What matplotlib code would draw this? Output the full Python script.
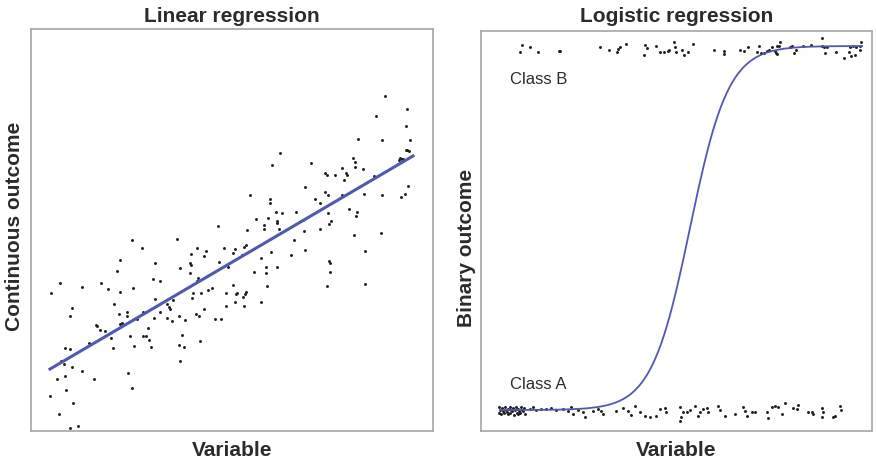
import numpy as np
import matplotlib
matplotlib.use("Agg")
import matplotlib.pyplot as plt

plt.rcParams['font.family'] = ['Liberation Sans', 'DejaVu Sans']

# ---------------- Linear regression panel data (arbitrary units) ----------------
lin_x = [101, 146, 111, 166, 175, 193, 160, 173, 89, 124, 159, 160, 188, 149, 86, 159,
         167, 166, 29, 70, 122, 129, 51, 102, 77, 181, 177, 20, 89, 162, 170, 195,
         161, 124, 142, 83, 136, 138, 139, 41, 96, 96, 112, 129, 173, 195, 39, 88,
         148, 165, 168, 123, 136, 141, 154, 184, 190, 91, 89, 106, 65, 66, 69, 74,
         117, 80, 99, 112, 115, 118, 151, 58, 169, 34, 39, 82, 103, 120, 148, 153,
         30, 33, 41, 149, 51, 26, 34, 63, 97, 101, 35, 19, 42, 28, 39, 47, 187,
         354, 376, 345, 375, 327, 351, 379, 376, 378, 375, 249, 369, 371, 372, 368,
         322, 324, 324, 241, 280, 311, 332, 294, 296, 304, 315, 316, 313, 343, 377,
         374, 370, 274, 219, 294, 297, 311, 333, 351, 239, 239, 284, 289, 318, 326,
         325, 245, 251, 265, 297, 225, 237, 246, 246, 233, 233, 272, 300, 298, 216,
         248, 273, 289, 323, 350,
         263, 204, 202, 213, 215, 211, 240, 274, 260, 334, 230, 298, 299, 197, 235,
         246, 223, 235, 299, 202, 236, 296, 334, 206, 205, 215, 214, 212, 230, 204, 213]
lin_y = [191, 192, 183, 183, 180, 183, 177, 175, 171, 168, 168, 166, 169, 163, 160, 158,
         153, 150, 148, 148, 152, 150, 144, 143, 142, 143, 141, 138, 139, 138, 138, 138,
         133, 132, 131, 127, 127, 124, 122, 123, 119, 115, 119, 119, 122, 125, 115, 117,
         115, 117, 115, 113, 113, 110, 111, 112, 112, 108, 107, 112, 106, 105, 101, 100,
         103, 93, 95, 95, 95, 91, 96, 88, 90, 83, 82, 83, 85, 84, 86, 84,
         70, 67, 64, 70, 60, 52, 55, 52, 58, 43, 41, 35, 28, 17, 3, 5, 205,
         335, 322, 315, 305, 292, 291, 291, 281, 280, 281, 278, 273, 272, 272, 271,
         273, 269, 264, 266, 268, 263, 262, 258, 256, 256, 258, 256, 251, 255, 245,
         237, 234, 244, 236, 239, 236, 236, 237, 236, 232, 228, 232, 228, 222, 219,
         215, 219, 218, 219, 218, 212, 213, 210, 208, 206, 202, 211, 210, 207, 201,
         202, 200, 202, 196, 198,
         191, 182, 178, 184, 186, 176, 179, 181, 176, 180, 173, 170, 168, 164, 164,
         164, 159, 158, 159, 146, 145, 145, 147, 138, 137, 139, 137, 134, 129, 129, 125]

# fitted regression line
lin_intercept = 50.8
lin_slope = 0.587
lin_line_x = [19, 382]

# ---------------- Logistic regression panel data (arbitrary units) ----------------
top_x = [41, 39, 49, 57, 79, 78, 119, 128, 137, 136, 139, 145, 164, 166, 163, 175,
         179, 183, 187, 188, 193, 194, 195, 201, 203, 207, 212, 233, 243, 243, 259,
         263, 267, 278, 276, 280, 283, 286, 288, 291, 294, 295, 296, 299, 298, 296,
         309, 311, 313, 315, 322, 330, 341, 341, 343, 346, 344, 355, 363, 368, 369,
         372, 375, 379, 380, 379, 374, 370]
top_y = [386, 379, 384, 379, 380, 380, 384, 381, 382, 379, 384, 387, 386, 383, 376, 385,
         379, 379, 380, 381, 389, 384, 379, 381, 376, 379, 387, 381, 380, 377, 381,
         380, 384, 385, 379, 378, 378, 380, 381, 384, 380, 378, 377, 389, 385, 385,
         384, 385, 378, 381, 385, 386, 393, 385, 384, 384, 378, 379, 373, 379, 384,
         385, 384, 385, 389, 381, 376, 375]

bot_x = [18, 21, 24, 27, 29, 32, 35, 37, 40, 43,
         19, 22, 25, 26, 30, 31, 34, 38, 41, 42,
         18, 20, 23, 27, 29, 33, 36, 37, 39, 44,
         49, 52, 55, 60, 65, 70, 75, 82, 87, 90, 92, 97, 102, 104, 112, 117, 120,
         122, 135, 142, 147, 150, 154, 159, 164, 169, 175, 179, 184, 185, 199, 200,
         202, 206, 209, 214, 219, 222, 226, 227, 199, 217, 237, 239, 244, 254, 262,
         264, 266, 271, 274, 286, 287, 291, 294, 297, 304, 301, 312, 316, 317, 327,
         331, 332, 341, 342, 341, 352, 354, 359, 360]
bot_y = [24, 23, 24, 22, 24, 23, 24, 22, 24, 23,
         21, 20, 21, 19, 21, 20, 21, 20, 21, 20,
         18, 17, 18, 17, 18, 16, 18, 17, 18, 17,
         22, 24, 21, 22, 22, 23, 21, 22, 20, 24, 17, 21, 19, 14, 20, 22, 20,
         17, 20, 23, 20, 16, 25, 19, 15, 14, 15, 22, 23, 19, 24, 14,
         19, 19, 21, 25, 19, 22, 23, 19, 10, 15, 25, 21, 15, 17, 24,
         20, 15, 19, 19, 19, 13, 24, 25, 24, 28, 17, 23, 22, 26, 19,
         19, 17, 23, 19, 14, 14, 15, 25, 21]

# fitted logistic curve parameters
log_low, log_high = 21, 385
log_mid, log_rate = 209, 0.052
log_line_x = [19, 381]

# ---------------- styling ----------------
dot_color = '#1e1e1e'
line_color = '#5058b0'
frame_color = '#a6a6a6'
text_color = '#2b2b2b'

fig = plt.figure(figsize=(8.76, 4.64), dpi=100)
ax1 = fig.add_axes([31 / 876, 1 - 432 / 464, 402 / 876, 402 / 464])
ax2 = fig.add_axes([481 / 876, 1 - 432 / 464, 391 / 876, 400 / 464])

for ax in (ax1, ax2):
    ax.set_xticks([])
    ax.set_yticks([])
    for sp in ax.spines.values():
        sp.set_color(frame_color)
        sp.set_linewidth(1.2)

# left panel
ax1.scatter(lin_x, lin_y, s=4.5, color=dot_color, linewidths=0, zorder=2)
lx = np.array(lin_line_x, dtype=float)
ax1.plot(lx, lin_intercept + lin_slope * lx, color=line_color, lw=2.2, zorder=3)
ax1.set_xlim(0, 402)
ax1.set_ylim(0, 402)

# right panel
ax2.scatter(top_x, top_y, s=4.5, color=dot_color, linewidths=0, zorder=2)
ax2.scatter(bot_x, bot_y, s=4.5, color=dot_color, linewidths=0, zorder=2)
cx = np.linspace(log_line_x[0], log_line_x[1], 400)
cy = log_low + (log_high - log_low) / (1 + np.exp(-log_rate * (cx - log_mid)))
ax2.plot(cx, cy, color=line_color, lw=1.3, zorder=3)
ax2.set_xlim(0, 391)
ax2.set_ylim(0, 400)
ax2.text(29, 352, 'Class B', fontsize=12, color=text_color, va='center', ha='left')
ax2.text(29, 47, 'Class A', fontsize=12, color=text_color, va='center', ha='left')

# titles and labels
fig.text(232 / 876, 1 - 16 / 464, 'Linear regression', fontsize=15, fontweight='bold',
         color=text_color, ha='center', va='center')
fig.text(676.5 / 876, 1 - 16 / 464, 'Logistic regression', fontsize=15, fontweight='bold',
         color=text_color, ha='center', va='center')
fig.text(232 / 876, 1 - 451 / 464, 'Variable', fontsize=15, fontweight='bold',
         color=text_color, ha='center', va='center')
fig.text(676.5 / 876, 1 - 451 / 464, 'Variable', fontsize=15, fontweight='bold',
         color=text_color, ha='center', va='center')
fig.text(15 / 876, 1 - 226 / 464, 'Continuous outcome', fontsize=15, fontweight='bold',
         color=text_color, ha='center', va='center', rotation=90)
fig.text(466 / 876, 1 - 248 / 464, 'Binary outcome', fontsize=15, fontweight='bold',
         color=text_color, ha='center', va='center', rotation=90)

fig.savefig('out.png', dpi=100)
